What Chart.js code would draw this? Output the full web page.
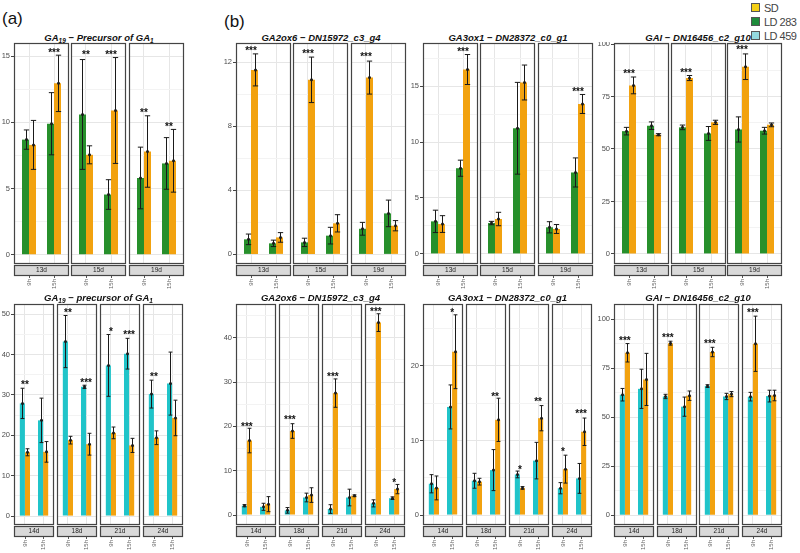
<!DOCTYPE html>
<html>
<head>
<meta charset="utf-8">
<script src="https://cdn.jsdelivr.net/npm/chart.js@4.4.1/dist/chart.umd.min.js"></script>
<style>
    body { margin: 0; background: #fff; }
    #figura { position: relative; width: 800px; height: 553px; overflow: hidden; background: #fff;
              font-family: "Liberation Sans", Arial, sans-serif; }
    #figura canvas { position: absolute; }
    .titulo { position: absolute; transform: translate(-50%, -50%); white-space: nowrap;
              font-weight: bold; font-style: italic; font-size: 9.5px; color: #111; }
    .titulo sub { font-size: 6.5px; vertical-align: -2px; line-height: 0; }
    .letra { position: absolute; font-size: 17px; color: #111; }
    .leyenda { position: absolute; left: 751px; font-size: 11px; color: #444; line-height: 12px;
               white-space: nowrap; letter-spacing: -0.5px; }
    .leyenda i { display: inline-block; width: 7px; height: 7px; margin-right: 4px; border: 1px solid #555;
                 vertical-align: 0px; }
</style>
</head>
<body>
<div id="figura">
    <div class="letra" style="left:2px; top:9px;">(a)</div>
    <div class="letra" style="left:224px; top:12px;">(b)</div>
    <div class="leyenda" style="top:2px;"><i style="background:#f5d016"></i>SD</div>
    <div class="leyenda" style="top:16px;"><i style="background:#1d8b3a"></i>LD 283</div>
    <div class="leyenda" style="top:30px;"><i style="background:#93d9df"></i>LD 459</div>
</div>

<script>
// Categorias
const horas = ["9h", "15h"];
const diasArriba = ["13d", "15d", "19d"];
const diasAbajo = ["14d", "18d", "21d", "24d"];

// Fila superior - GA19 (LD 283 vs SD)
const ga19ArribaLD = [[8.7, 9.9], [10.6, 4.55], [5.8, 6.9]];
const ga19ArribaLDErr = [[0.73, 2.35], [4.15, 1.12], [2.33, 1.95]];
const ga19ArribaSD = [[8.3, 12.95], [7.55, 10.9], [7.8, 7.1]];
const ga19ArribaSDErr = [[1.85, 2.13], [0.68, 4.0], [2.7, 2.37]];
const ga19ArribaEstrellas = [["", "***"], ["**", "***"], ["**", "**"]];
const ga19ArribaEstrellasY = [[0, 15.5], [15.3, 15.35], [10.9, 9.85]];

// Fila superior - GA2ox6
const ga2ArribaLD = [[0.94, 0.69], [0.75, 1.17], [1.6, 2.56]];
const ga2ArribaLDErr = [[0.33, 0.2], [0.26, 0.52], [0.4, 0.83]];
const ga2ArribaSD = [[11.52, 1.06], [10.9, 1.94], [11.04, 1.79]];
const ga2ArribaSDErr = [[1.0, 0.3], [1.42, 0.54], [1.03, 0.32]];
const ga2ArribaEstrellas = [["***", ""], ["***", ""], ["***", ""]];
const ga2ArribaEstrellasY = [[12.9, 0], [12.67, 0], [12.5, 0]];

// Fila superior - GA3ox1
const ga3ArribaLD = [[2.91, 7.66], [2.76, 11.23], [2.38, 7.28]];
const ga3ArribaLDErr = [[1.0, 0.72], [0.15, 4.1], [0.5, 1.3]];
const ga3ArribaSD = [[2.67, 16.48], [3.12, 15.32], [2.23, 13.4]];
const ga3ArribaSDErr = [[0.75, 1.34], [0.6, 1.56], [0.4, 0.85]];
const ga3ArribaEstrellas = [["", "***"], ["", ""], ["", "***"]];
const ga3ArribaEstrellasY = [[0, 18.35], [0, 0], [0, 14.7]];

// Fila superior - GAI
const gaiArribaLD = [[58.5, 61.1], [60.3, 57.4], [59.3, 58.7]];
const gaiArribaLDErr = [[1.8, 1.8], [1.1, 3.3], [6.0, 1.6]];
const gaiArribaSD = [[80.3, 56.8], [83.8, 62.7], [89.2, 61.5]];
const gaiArribaSDErr = [[4.0, 0.5], [1.2, 1.0], [6.1, 0.9]];
const gaiArribaEstrellas = [["***", ""], ["***", ""], ["***", ""]];
const gaiArribaEstrellasY = [[87, 0], [87.6, 0], [98.4, 0]];

// Fila inferior - GA19 (LD 459 vs SD)
const ga19AbajoLD = [[27.9, 23.7], [43.2, 32.0], [37.3, 40.2], [30.2, 32.8]];
const ga19AbajoLDErr = [[3.75, 5.5], [6.45, 0.4], [7.65, 3.8], [3.45, 7.8]];
const ga19AbajoSD = [[15.8, 15.9], [18.8, 17.8], [20.6, 17.5], [19.4, 24.3]];
const ga19AbajoSDErr = [[0.87, 2.55], [0.95, 2.7], [1.45, 1.75], [1.7, 4.4]];
const ga19AbajoEstrellas = [["**", ""], ["**", "***"], ["*", "***"], ["**", ""]];
const ga19AbajoEstrellasY = [[33.25, 0], [51, 33.8], [46.3, 45.5], [35.1, 0]];

// Fila inferior - GA2ox6
const ga2AbajoLD = [[2.1, 1.85], [1.05, 3.95], [1.35, 3.95], [2.63, 3.8]];
const ga2AbajoLDErr = [[0.25, 0.8], [0.63, 0.98], [0.98, 1.88], [0.8, 0.3]];
const ga2AbajoSD = [[16.8, 2.45], [18.95, 4.5], [27.5, 4.35], [43.4, 5.85]];
const ga2AbajoSDErr = [[2.77, 1.7], [1.65, 1.65], [3.2, 0.2], [2.0, 1.05]];
const ga2AbajoEstrellas = [["***", ""], ["***", ""], ["***", ""], ["***", "*"]];
const ga2AbajoEstrellasY = [[20.6, 0], [22.0, 0], [31.8, 0], [46.45, 7.8]];

// Fila inferior - GA3ox1
const ga3AbajoLD = [[4.2, 14.5], [4.6, 6.03], [5.45, 7.3], [3.6, 4.92]];
const ga3AbajoLDErr = [[1.22, 2.95], [1.0, 2.75], [0.45, 2.45], [0.75, 2.0]];
const ga3AbajoSD = [[3.64, 21.9], [4.48, 12.77], [3.64, 12.99], [6.16, 11.17]];
const ga3AbajoSDErr = [[1.6, 4.95], [0.45, 2.9], [0.18, 1.69], [1.87, 1.84]];
const ga3AbajoEstrellas = [["", "*"], ["", "**"], ["*", "**"], ["*", "***"]];
const ga3AbajoEstrellasY = [[0, 27.5], [0, 16.3], [6.5, 15.6], [8.8, 13.9]];

// Fila inferior - GAI
const gaiAbajoLD = [[61.5, 64.5], [60.6, 55.4], [65.9, 60.6], [60.5, 60.8]];
const gaiAbajoLDErr = [[3.2, 10], [1.1, 4.9], [0.7, 1.6], [2.2, 3.0]];
const gaiAbajoSD = [[82.9, 69.3], [87.8, 61.0], [83.3, 61.8], [87.5, 61.1]];
const gaiAbajoSDErr = [[4.7, 13.3], [1.0, 2.4], [2.4, 1.3], [14.1, 2.7]];
const gaiAbajoEstrellas = [["***", ""], ["***", ""], ["***", ""], ["***", ""]];
const gaiAbajoEstrellasY = [[90.5, 0], [92.2, 0], [88.7, 0], [104.9, 0]];

const VERDE = "#27902b";
const CIAN = "#20c4c9";
const NARANJA = "#f2a20f";
const ALTO_X = 30;        // franja + etiquetas del eje x
const figura = document.getElementById("figura");

// Paneles: datos + donde van
const paneles = [
    { titulo: "GA<sub>19</sub> − Precursor of GA<sub>1</sub>", dias: diasArriba, color: VERDE,
      ld: ga19ArribaLD, ldErr: ga19ArribaLDErr, sd: ga19ArribaSD, sdErr: ga19ArribaSDErr,
      estrellas: ga19ArribaEstrellas, estrellasY: ga19ArribaEstrellasY,
      min: -0.7, max: 16, paso: 5, izq: [14, 71, 129], ancho: 55, arriba: 43, abajo: 264, yw: 14, tituloY: 37 },
    { titulo: "GA2ox6 − DN15972_c3_g4", dias: diasArriba, color: VERDE,
      ld: ga2ArribaLD, ldErr: ga2ArribaLDErr, sd: ga2ArribaSD, sdErr: ga2ArribaSDErr,
      estrellas: ga2ArribaEstrellas, estrellasY: ga2ArribaEstrellasY,
      min: -0.6, max: 13.2, paso: 4, izq: [236, 293, 351], ancho: 55, arriba: 43, abajo: 264, yw: 20, tituloY: 37 },
    { titulo: "GA3ox1 − DN28372_c0_g1", dias: diasArriba, color: VERDE,
      ld: ga3ArribaLD, ldErr: ga3ArribaLDErr, sd: ga3ArribaSD, sdErr: ga3ArribaSDErr,
      estrellas: ga3ArribaEstrellas, estrellasY: ga3ArribaEstrellasY,
      min: -0.9, max: 18.85, paso: 5, izq: [423, 480, 538], ancho: 55, arriba: 43, abajo: 264, yw: 16, tituloY: 37 },
    { titulo: "GAI − DN16456_c2_g10", dias: diasArriba, color: VERDE,
      ld: gaiArribaLD, ldErr: gaiArribaLDErr, sd: gaiArribaSD, sdErr: gaiArribaSDErr,
      estrellas: gaiArribaEstrellas, estrellasY: gaiArribaEstrellasY,
      min: -4.8, max: 100.5, paso: 25, izq: [614, 671, 727], ancho: 55, arriba: 43, abajo: 264, yw: 18, tituloY: 37 },
    { titulo: "GA<sub>19</sub> −  precursor of GA<sub>1</sub>", dias: diasAbajo, color: CIAN,
      ld: ga19AbajoLD, ldErr: ga19AbajoLDErr, sd: ga19AbajoSD, sdErr: ga19AbajoSDErr,
      estrellas: ga19AbajoEstrellas, estrellasY: ga19AbajoEstrellasY,
      min: -2.2, max: 52.5, paso: 10, izq: [14, 57, 100, 143], ancho: 40, arriba: 304, abajo: 525, yw: 14, tituloY: 297 },
    { titulo: "GA2ox6 − DN15972_c3_g4", dias: diasAbajo, color: CIAN,
      ld: ga2AbajoLD, ldErr: ga2AbajoLDErr, sd: ga2AbajoSD, sdErr: ga2AbajoSDErr,
      estrellas: ga2AbajoEstrellas, estrellasY: ga2AbajoEstrellasY,
      min: -2.25, max: 47.6, paso: 10, izq: [236, 279, 322, 365], ancho: 40, arriba: 304, abajo: 525, yw: 20, tituloY: 297 },
    { titulo: "GA3ox1 − DN28372_c0_g1", dias: diasAbajo, color: CIAN,
      ld: ga3AbajoLD, ldErr: ga3AbajoLDErr, sd: ga3AbajoSD, sdErr: ga3AbajoSDErr,
      estrellas: ga3AbajoEstrellas, estrellasY: ga3AbajoEstrellasY,
      min: -1.33, max: 28.3, paso: 10, izq: [423, 466, 509, 552], ancho: 40, arriba: 304, abajo: 525, yw: 16, tituloY: 297 },
    { titulo: "GAI − DN16456_c2_g10", dias: diasAbajo, color: CIAN,
      ld: gaiAbajoLD, ldErr: gaiAbajoLDErr, sd: gaiAbajoSD, sdErr: gaiAbajoSDErr,
      estrellas: gaiAbajoEstrellas, estrellasY: gaiAbajoEstrellasY,
      min: -5, max: 107.8, paso: 25, izq: [614, 657, 699, 742], ancho: 40, arriba: 304, abajo: 525, yw: 18, tituloY: 297 },
];

// Barras de error, estrellas, marco y franja de cada faceta
const pluginFaceta = {
    id: "faceta",
    afterDatasetsDraw(chart) {
        const ctx = chart.ctx;
        const y = chart.scales.y;
        ctx.save();
        ctx.strokeStyle = "#1a1a1a";
        ctx.fillStyle = "#1a1a1a";
        ctx.lineWidth = 1;
        chart.data.datasets.forEach((ds, i) => {
            chart.getDatasetMeta(i).data.forEach((barra, j) => {
                const v = ds.data[j].y;
                const e = ds.errs[j];
                const x = Math.round(barra.x) + 0.5;
                const y1 = y.getPixelForValue(v + e);
                const y2 = y.getPixelForValue(v - e);
                const tapa = barra.width * 0.38;
                ctx.beginPath();
                ctx.moveTo(x, y1); ctx.lineTo(x, y2);
                ctx.moveTo(x - tapa, y1); ctx.lineTo(x + tapa, y1);
                ctx.moveTo(x - tapa, y2); ctx.lineTo(x + tapa, y2);
                ctx.stroke();
                ctx.beginPath();
                ctx.arc(x, y.getPixelForValue(v), 1.5, 0, Math.PI * 2);
                ctx.fill();
            });
        });
        ctx.restore();
    },
    afterDraw(chart, args, opts) {
        const ctx = chart.ctx;
        const { left, right, top, bottom } = chart.chartArea;
        const x = chart.scales.x;
        const y = chart.scales.y;
        ctx.save();
        // estrellas
        ctx.fillStyle = "#111";
        ctx.font = "bold 10px 'Liberation Sans', Arial, sans-serif";
        ctx.textAlign = "center";
        ctx.textBaseline = "alphabetic";
        opts.estrellas.forEach((s, j) => {
            if (s) ctx.fillText(s, x.getPixelForValue(j + 1), y.getPixelForValue(opts.estrellasY[j]) + 6);
        });
        // marco del panel
        ctx.strokeStyle = "#444";
        ctx.lineWidth = 1.2;
        ctx.strokeRect(left + 0.5, top + 0.5, right - left - 1, bottom - top - 1);
        // franja con el dia
        ctx.fillStyle = "#d9d9d9";
        ctx.fillRect(left, bottom + 1, right - left, 10);
        ctx.strokeRect(left + 0.5, bottom + 1.5, right - left - 1, 10);
        ctx.fillStyle = "#222";
        ctx.font = "6.5px 'Liberation Sans', Arial, sans-serif";
        ctx.textBaseline = "middle";
        ctx.fillText(opts.dia, (left + right) / 2, bottom + 6.5);
        // marcas del eje x
        ctx.strokeStyle = "#555";
        ctx.lineWidth = 1;
        [1, 2].forEach(v => {
            const px = Math.round(x.getPixelForValue(v)) + 0.5;
            ctx.beginPath();
            ctx.moveTo(px, bottom + 12); ctx.lineTo(px, bottom + 14);
            ctx.stroke();
        });
        ctx.restore();
    }
};

function esMayor(v, paso) {
    return Math.abs(v / paso - Math.round(v / paso)) < 1e-6;
}

function crearFaceta(panel, f) {
    const primera = f === 0;
    const yw = primera ? panel.yw : 0;
    const padL = primera ? 0 : 1;
    const canvas = document.createElement("canvas");
    canvas.width = panel.ancho + yw + padL + 1;
    canvas.height = panel.abajo - panel.arriba + 1 + ALTO_X;
    canvas.style.left = (panel.izq[f] - yw - padL) + "px";
    canvas.style.top = (panel.arriba - 1) + "px";
    figura.appendChild(canvas);

    const puntos = (vals) => vals.map((v, k) => ({ x: k + 1, y: v }));

    new Chart(canvas, {
        type: "bar",
        data: {
            datasets: [
                { label: "LD", data: puntos(panel.ld[f]), errs: panel.ldErr[f], backgroundColor: panel.color,
                  categoryPercentage: 0.56, barPercentage: 1 },
                { label: "SD", data: puntos(panel.sd[f]), errs: panel.sdErr[f], backgroundColor: NARANJA,
                  categoryPercentage: 0.56, barPercentage: 1 }
            ]
        },
        options: {
            responsive: false,
            animation: false,
            devicePixelRatio: 1,
            layout: { padding: { top: 1, right: 1, left: padL, bottom: 0 } },
            plugins: {
                legend: { display: false },
                tooltip: { enabled: false },
                faceta: { estrellas: panel.estrellas[f], estrellasY: panel.estrellasY[f], dia: panel.dias[f] }
            },
            scales: {
                x: {
                    type: "linear", min: 0.4, max: 2.6, offset: false,
                    afterFit: s => { s.height = ALTO_X; s.paddingLeft = 0; s.paddingRight = 0; },
                    grid: { offset: false, color: "#e6e6e6", drawTicks: false },
                    border: { display: false },
                    ticks: {
                        stepSize: 1, includeBounds: false, autoSkip: false,
                        minRotation: 90, maxRotation: 90, padding: 15,
                        color: "#666", font: { size: 6 },
                        callback: v => horas[v - 1] || ""
                    }
                },
                y: {
                    min: panel.min, max: panel.max,
                    afterFit: s => { s.width = yw; s.paddingTop = 0; s.paddingBottom = 0; },
                    grid: {
                        color: c => esMayor(c.tick.value, panel.paso) ? "#e6e6e6" : "#f3f3f3",
                        drawTicks: primera, tickLength: 3,
                        tickColor: c => esMayor(c.tick.value, panel.paso) ? "#444" : "rgba(0,0,0,0)"
                    },
                    border: { display: false },
                    ticks: {
                        display: primera, stepSize: panel.paso / 2, includeBounds: false,
                        padding: 1, color: "#4d4d4d", font: { size: 7.5 },
                        callback: v => esMayor(v, panel.paso) ? v : ""
                    }
                }
            }
        },
        plugins: [pluginFaceta]
    });
}

paneles.forEach(panel => {
    const t = document.createElement("div");
    t.className = "titulo";
    t.innerHTML = panel.titulo;
    const fin = panel.izq[panel.izq.length - 1] + panel.ancho;
    t.style.left = ((panel.izq[0] + fin) / 2) + "px";
    t.style.top = panel.tituloY + "px";
    figura.appendChild(t);
    panel.dias.forEach((d, f) => crearFaceta(panel, f));
});
</script>
</body>
</html>
